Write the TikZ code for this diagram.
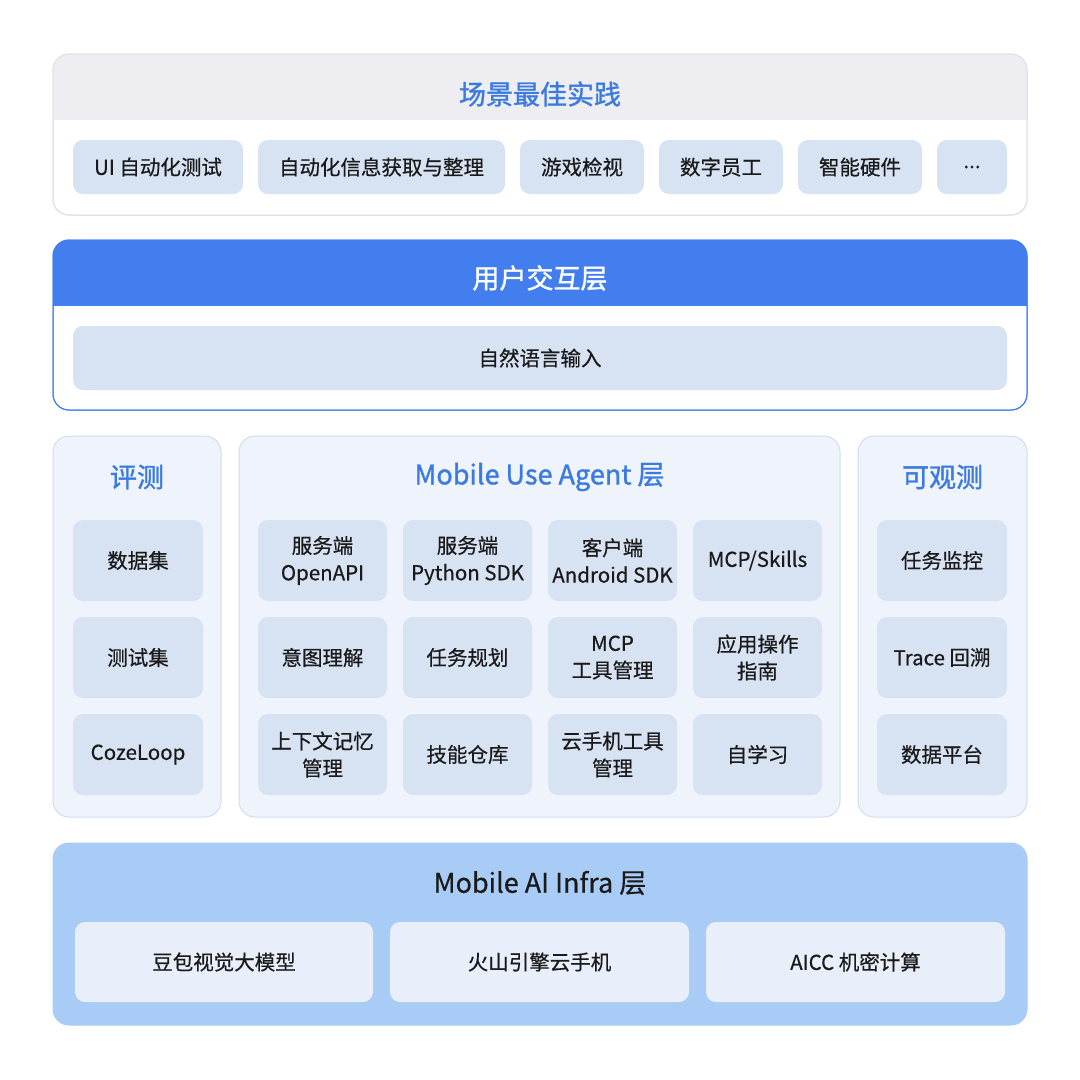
\documentclass[tikz,border=0pt]{standalone}
\usepackage{fontspec}
\setmainfont{Noto Sans CJK SC}[FakeBold=0.5]
\newfontfamily\titlefont{Noto Sans CJK SC}[FakeBold=1.2]
\usepackage{xcolor}
\definecolor{titleblue}{HTML}{3B7BE0}
\definecolor{hdrgray}{HTML}{EDEDF2}
\definecolor{edgegray}{HTML}{DDE1EA}
\definecolor{chipblue}{HTML}{D7E2F3}
\definecolor{userblue}{HTML}{437EEE}
\definecolor{paleblue}{HTML}{EEF3FC}
\definecolor{paleedge}{HTML}{D3DDF0}
\definecolor{infrablue}{HTML}{A9CCF6}
\definecolor{infrachip}{HTML}{E8EFFA}
\definecolor{ink}{HTML}{1A1A1A}

\tikzset{
    panel/.style={draw, rounded corners=16, line width=1pt, inner sep=0},
    chip/.style={fill=chipblue, rounded corners=10, text=ink, align=center,
        font=\fontsize{20.5}{27}\selectfont, inner sep=0},
    ttl/.style={text=titleblue, font=\titlefont\fontsize{27}{30}\selectfont},
}

\begin{document}
\begin{tikzpicture}[x=1pt, y=-1pt]
    \useasboundingbox[fill=white] (0,0) rectangle (1080,1080);

    % Scene panel
    \node[panel, draw=edgegray, fill=white, minimum width=974, minimum height=161] (scene) at (540,134.5) {};
    \begin{scope}
        \clip[rounded corners=16] (53,54) rectangle (1027,215);
        \fill[hdrgray] (53,54) rectangle (1027,120);
    \end{scope}
    \draw[edgegray, rounded corners=16, line width=1pt] (53,54) rectangle (1027,215);
    \node[ttl] (scenettl) at (540,94) {场景最佳实践};
    \node[chip, minimum width=170, minimum height=54] (uitest) at (158,167) {UI 自动化测试};
    \node[chip, minimum width=247, minimum height=54] (autoinfo) at (381.5,167) {自动化信息获取与整理};
    \node[chip, minimum width=124, minimum height=54] (game) at (582,167) {游戏检视};
    \node[chip, minimum width=124, minimum height=54] (staff) at (721,167) {数字员工};
    \node[chip, minimum width=124, minimum height=54] (hardware) at (860,167) {智能硬件};
    \node[chip, minimum width=70, minimum height=54] (more) at (972,167) {...};

    % User interaction layer
    \node[panel, draw=userblue, fill=white, minimum width=974, minimum height=170] (user) at (540,325) {};
    \begin{scope}
        \clip[rounded corners=16] (53,240) rectangle (1027,410);
        \fill[userblue] (53,240) rectangle (1027,306);
    \end{scope}
    \draw[userblue, rounded corners=16, line width=1pt] (53,240) rectangle (1027,410);
    \node[ttl, text=white] (userttl) at (540,278) {用户交互层};
    \node[chip, minimum width=934, minimum height=64] (nlinput) at (540,358) {自然语言输入};

    % Evaluation
    \node[panel, draw=paleedge, fill=paleblue, minimum width=168, minimum height=381] (eval) at (137,626.5) {};
    \node[ttl] (evalttl) at (137,477) {评测};
    \node[chip, minimum width=130, minimum height=81] (dataset) at (138,560.5) {数据集};
    \node[chip, minimum width=130, minimum height=81] (testset) at (138,657.5) {测试集};
    \node[chip, minimum width=130, minimum height=81] (cozeloop) at (138,754.5) {CozeLoop};

    % Mobile Use Agent
    \node[panel, draw=paleedge, fill=paleblue, minimum width=601, minimum height=381] (agent) at (539.5,626.5) {};
    \node[ttl] (agentttl) at (539.5,477) {Mobile Use Agent 层};
    \node[chip, minimum width=129, minimum height=81] (openapi) at (322.5,560.5) {服务端\\OpenAPI};
    \node[chip, minimum width=129, minimum height=81] (pysdk) at (467.5,560.5) {服务端\\Python SDK};
    \node[chip, minimum width=129, minimum height=81] (andsdk) at (612.5,560.5) {客户端\\Android SDK};
    \node[chip, minimum width=129, minimum height=81] (skills) at (757.5,560.5) {MCP/Skills};
    \node[chip, minimum width=129, minimum height=81] (intent) at (322.5,657.5) {意图理解};
    \node[chip, minimum width=129, minimum height=81] (plan) at (467.5,657.5) {任务规划};
    \node[chip, minimum width=129, minimum height=81] (mcptool) at (612.5,657.5) {MCP\\工具管理};
    \node[chip, minimum width=129, minimum height=81] (guide) at (757.5,657.5) {应用操作\\指南};
    \node[chip, minimum width=129, minimum height=81] (memory) at (322.5,754.5) {上下文记忆\\管理};
    \node[chip, minimum width=129, minimum height=81] (skillrepo) at (467.5,754.5) {技能仓库};
    \node[chip, minimum width=129, minimum height=81] (phonetool) at (612.5,754.5) {云手机工具\\管理};
    \node[chip, minimum width=129, minimum height=81] (selflearn) at (757.5,754.5) {自学习};

    % Observability
    \node[panel, draw=paleedge, fill=paleblue, minimum width=169, minimum height=381] (obs) at (942.5,626.5) {};
    \node[ttl] (obsttl) at (942.5,477) {可观测};
    \node[chip, minimum width=130, minimum height=81] (monitor) at (942,560.5) {任务监控};
    \node[chip, minimum width=130, minimum height=81] (trace) at (942,657.5) {Trace 回溯};
    \node[chip, minimum width=130, minimum height=81] (dataplat) at (942,754.5) {数据平台};

    % Mobile AI Infra
    \node[panel, draw=infrablue, fill=infrablue, minimum width=974, minimum height=182] (infra) at (540,934) {};
    \node[ttl, text=ink, font=\fontsize{27}{30}\selectfont] (infrattl) at (540,883) {Mobile AI Infra 层};
    \node[chip, fill=infrachip, minimum width=298, minimum height=80] (doubao) at (224,962) {豆包视觉大模型};
    \node[chip, fill=infrachip, minimum width=299, minimum height=80] (volc) at (539.5,962) {火山引擎云手机};
    \node[chip, fill=infrachip, minimum width=299, minimum height=80] (aicc) at (855.5,962) {AICC 机密计算};
\end{tikzpicture}
\end{document}
